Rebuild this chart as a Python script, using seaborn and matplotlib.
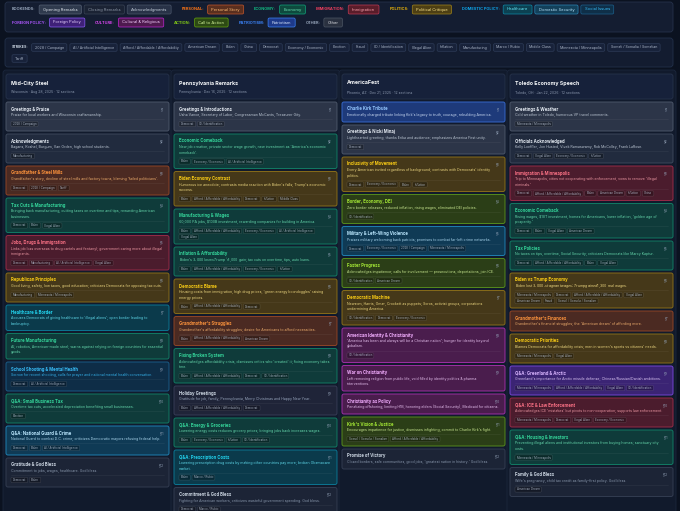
import matplotlib
matplotlib.use("Agg")
import matplotlib.pyplot as plt
from matplotlib.patches import FancyBboxPatch
import seaborn as sns

# ---- data ---------------------------------------------------------------
AFF = "Afford / Affordable / Affordability"

legend_row1 = [
    ("BOOKENDS:", "#94a3b8", ["Opening Remarks", "Closing Remarks", "Acknowledgments"]),
    ("PERSONAL:", "#f97316", ["Personal Story"]),
    ("ECONOMY:", "#10b981", ["Economy"]),
    ("IMMIGRATION:", "#f43f5e", ["Immigration"]),
    ("POLITICS:", "#eab308", ["Political Critique"]),
    ("DOMESTIC POLICY:", "#0ea5e9", ["Healthcare", "Domestic Security", "Social Issues"]),
]
legend_row2 = [
    ("FOREIGN POLICY:", "#a855f7", ["Foreign Policy"]),
    ("CULTURE:", "#d946ef", ["Cultural & Religious"]),
    ("ACTION:", "#84cc16", ["Call to Action"]),
    ("PATRIOTISM:", "#3b82f6", ["Patriotism"]),
    ("OTHER:", "#94a3b8", ["Other"]),
]

strikes = ["2028 / Campaign", "AI / Artificial Intelligence", AFF, "American Dream",
           "Biden", "China", "Democrat", "Economy / Economic", "Election", "Fraud",
           "ID / Identification", "Illegal Alien", "Inflation", "Manufacturing",
           "Marco / Rubio", "Middle Class", "Minnesota / Minneapolis",
           "Somali / Somalia / Somalian", "Tariff"]

speech_names = ["Mid-City Steel", "Pennsylvania Remarks", "AmericaFest", "Toledo Economy Speech"]
speech_subs = ["Wisconsin · Aug 28, 2025 · 12 sections",
               "Pennsylvania · Dec 16, 2025 · 12 sections",
               "Phoenix, AZ · Dec 21, 2025 · 12 sections",
               "Toledo, OH · Jan 22, 2026 · 12 sections"]

steel_titles = ["Greetings & Praise", "Acknowledgments", "Grandfather & Steel Mills",
                "Tax Cuts & Manufacturing", "Jobs, Drugs & Immigration", "Republican Principles",
                "Healthcare & Border", "Future Manufacturing", "School Shooting & Mental Health",
                "Q&A: Small Business Tax", "Q&A: National Guard & Crime", "Gratitude & God Bless"]
steel_descs = [
    "Praise for local workers and Wisconsin craftsmanship.",
    "Bagans, Koshel, Burgum, Van Orden, high school students.",
    "Grandfather's story, decline of steel mills and factory towns, blaming 'failed politicians'.",
    "Bringing back manufacturing, cutting taxes on overtime and tips, rewarding American\nbusinesses.",
    "Links job loss overseas to drug cartels and fentanyl; government caring more about illegal\nimmigrants.",
    "Good living, safety, low taxes, good education; criticizes Democrats for opposing tax cuts.",
    "Accuses Democrats of giving healthcare to 'illegal aliens'; open border leading to\nbankruptcy.",
    "AI, robotics, American-made steel; warns against relying on foreign countries for essential\ngoods.",
    "Sorrow for recent shooting, calls for prayer and national mental health conversation.",
    "Overtime tax cuts, accelerated depreciation benefiting small businesses.",
    "National Guard to combat D.C. crime; criticizes Democratic mayors refusing federal help.",
    "Commitment to jobs, wages, healthcare. God bless."]
steel_cats = ["opening", "ack", "personal", "economy", "immigration", "politics",
              "healthcare", "economy", "social", "economy", "security", "closing"]
steel_tags = [["2028 / Campaign"], ["Manufacturing"], ["Democrat", "2028 / Campaign", "Tariff"],
              ["Democrat", "Biden", "Illegal Alien"],
              ["Democrat", "Manufacturing", "AI / Artificial Intelligence", "Illegal Alien"],
              ["Manufacturing", "Minnesota / Minneapolis"], [], [],
              ["Democrat", "AI / Artificial Intelligence"], ["Election"],
              ["Democrat", "Biden", "AI / Artificial Intelligence"], ["Democrat", "Biden"]]

pa_titles = ["Greetings & Introductions", "Economic Comeback", "Biden Economy Contrast",
             "Manufacturing & Wages", "Inflation & Affordability", "Democratic Blame",
             "Grandmother's Struggles", "Fixing Broken System", "Holiday Greetings",
             "Q&A: Energy & Groceries", "Q&A: Prescription Costs", "Commitment & God Bless"]
pa_descs = [
    "Usha Vance, Secretary of Labor, Congressman McCants, Treasurer Gity.",
    "New job creation, private sector wage growth, new investment as 'America's economic\ncomeback'.",
    "Humorous ice anecdote; contrasts media reaction with Biden's falls; Trump's economic\nsuccess.",
    "60,000 PA jobs, $100B investment, rewarding companies for building in America.",
    "Biden's $3,000 loss vs Trump's $1,000 gain; tax cuts on overtime, tips, auto loans.",
    "Housing costs from immigration, high drug prices, 'green energy boondoggles' raising\nenergy prices.",
    "Grandmother's affordability struggles; desire for Americans to afford necessities.",
    "Acknowledges affordability crisis, dismisses critics who 'created' it; fixing economy takes\ntime.",
    "Gratitude for job, family, Pennsylvania, Merry Christmas and Happy New Year.",
    "Lowering energy costs reduces grocery prices; bringing jobs back increases wages.",
    "Lowering prescription drug costs by making other countries pay more; broken Obamacare\nmarket.",
    "Fighting for American workers, criticizes wasteful government spending. God bless."]
pa_cats = ["opening", "economy", "politics", "economy", "economy", "politics",
           "personal", "economy", "other", "economy", "healthcare", "closing"]
pa_tags = [["Democrat", "ID / Identification"],
           ["Biden", "Economy / Economic", "AI / Artificial Intelligence"],
           ["Biden", AFF, "Democrat", "Inflation", "Middle Class"],
           ["Biden", AFF, "Economy / Economic", "AI / Artificial Intelligence", "Illegal Alien"],
           ["Biden", AFF, "Economy / Economic", "Inflation"],
           ["Biden", AFF, "Democrat"], ["Biden", AFF, "American Dream"],
           ["Biden", AFF, "Democrat", "ID / Identification"], ["Biden", AFF, "Democrat"],
           ["Biden", "Economy / Economic", "Inflation", "ID / Identification"],
           ["Biden", "Marco / Rubio"], ["Democrat", "Marco / Rubio"]]

af_titles = ["Charlie Kirk Tribute", "Greetings & Nicki Minaj", "Inclusivity of Movement",
             "Border, Economy, DEI", "Military & Left-Wing Violence", "Faster Progress",
             "Democratic Machine", "American Identity & Christianity", "War on Christianity",
             "Christianity as Policy", "Kirk's Vision & Justice", "Promise of Victory"]
af_descs = [
    "Emotionally charged tribute linking Kirk's legacy to truth, courage, rebuilding America.",
    "Lighthearted greeting, thanks Erika and audience; emphasizes America First unity.",
    "Every American invited regardless of background; contrasts with Democrats' identity\npolitics.",
    "Zero border releases, reduced inflation, rising wages, eliminated DEI policies.",
    "Praises military welcoming back patriots; promises to combat far-left crime networks.",
    "Acknowledges impatience; calls for involvement — prosecutions, deportations, join ICE.",
    "Newsom, Harris, Omar, Crockett as puppets; Soros, activist groups, corporations\nundermining America.",
    "'America has been and always will be a Christian nation'; hunger for identity beyond\nglobalism.",
    "Left removing religion from public life, void filled by identity politics & pharma\ninterventions.",
    "Penalizing offshoring, limiting H1B, honoring elders (Social Security), Medicaid for citizens.",
    "Encourages impatience for justice, dismisses infighting, commit to Charlie Kirk's fight.",
    "Closed borders, safe communities, good jobs, 'greatest nation in history.' God bless."]
af_cats = ["patriotism", "opening", "politics", "action", "security", "action",
           "politics", "culture", "culture", "culture", "action", "closing"]
af_tags = [[], ["Democrat"], ["Democrat", "Economy / Economic", "Biden", "Inflation"],
           ["ID / Identification"],
           ["Democrat", "Economy / Economic", "2028 / Campaign", "Minnesota / Minneapolis"],
           ["ID / Identification", "American Dream"],
           ["ID / Identification", "Democrat", "Economy / Economic"],
           ["ID / Identification"], [], [], ["Somali / Somalia / Somalian", AFF], []]

tol_titles = ["Greetings & Weather", "Officials Acknowledged", "Immigration & Minneapolis",
              "Economic Comeback", "Tax Policies", "Biden vs Trump Economy",
              "Grandmother's Finances", "Democratic Priorities", "Q&A: Greenland & Arctic",
              "Q&A: ICE & Law Enforcement", "Q&A: Housing & Investors", "Family & God Bless"]
tol_descs = [
    "Cold weather in Toledo, humorous VP travel comments.",
    "Kelly Loeffler, Jon Husted, Vivek Ramaswamy, Rob McColley, Frank LaRose.",
    "Trip to Minneapolis, cities not cooperating with enforcement, vows to remove 'illegal\ncriminals.'",
    "Rising wages, $18T investment, homes for Americans, lower inflation, 'golden age of\nprosperity.'",
    "No taxes on tips, overtime, Social Security; criticizes Democrats like Marcy Kaptur.",
    "Biden lost $3,000, stagnant wages; Trump gained $1,300 real wages.",
    "Grandmother's financial struggles; the 'American dream' of affording more.",
    "Blames Democrats for affordability crisis; men in women's sports vs citizens' needs.",
    "Greenland's importance for Arctic missile defense; Chinese/Russian/Danish ambitions.",
    "Acknowledges ICE 'mistakes' but pivots to non-cooperation; supports law enforcement.",
    "Preventing illegal aliens and institutional investors from buying homes; sanctuary city\ncosts.",
    "Wife's pregnancy, child tax credit as family-first policy. God bless."]
tol_cats = ["opening", "ack", "immigration", "economy", "economy", "politics",
            "personal", "politics", "foreign", "immigration", "economy", "closing"]
tol_tags = [["Minnesota / Minneapolis"],
            ["Democrat", "Illegal Alien", "Economy / Economic", "Inflation"],
            ["Democrat", AFF, "Biden", "American Dream", "Inflation", "China"],
            ["Democrat", "Biden", "Illegal Alien", "American Dream"],
            ["Democrat", AFF, "Biden", "Illegal Alien"],
            ["Minnesota / Minneapolis", "Democrat", AFF, "Illegal Alien", "American Dream",
             "Fraud", "Somali / Somalia / Somalian"],
            [], ["Minnesota / Minneapolis", "Illegal Alien"],
            ["Minnesota / Minneapolis", AFF, "Illegal Alien", "ID / Identification"],
            ["Minnesota / Minneapolis", "Democrat", "Illegal Alien", "Economy / Economic"],
            ["Minnesota / Minneapolis"], ["American Dream"]]

# ---- styles: fill, edge, title colour, text colour ----------------------
STYLES = {
    "opening":     ("#2c3548", "#4a5467", "#e2e8f0", "#cbd5e1"),
    "ack":         ("#212b3e", "#3c475a", "#e2e8f0", "#cbd5e1"),
    "closing":     ("#1c2436", "#323c50", "#cbd5e1", "#94a3b8"),
    "personal":    ("#4b2a22", "#8e4426", "#fb923c", "#fdba74"),
    "economy":     ("#0f3b3a", "#127a63", "#34d399", "#6ee7b7"),
    "immigration": ("#4b1c2d", "#962b46", "#fb7185", "#fda4af"),
    "politics":    ("#453819", "#876c19", "#facc15", "#fde68a"),
    "healthcare":  ("#0b3a4b", "#0b7591", "#22d3ee", "#67e8f9"),
    "security":    ("#0f3a55", "#1f7fb0", "#bae6fd", "#bae6fd"),
    "social":      ("#0e2d47", "#1a5a85", "#38bdf8", "#38bdf8"),
    "foreign":     ("#3b2474", "#7244d0", "#d8b4fe", "#e9d5ff"),
    "culture":     ("#4a1d4d", "#9d2fa3", "#f0abfc", "#f5d0fe"),
    "action":      ("#2b3e17", "#558a1c", "#a3e635", "#d9f99d"),
    "patriotism":  ("#1e3a7a", "#3566c8", "#93c5fd", "#dbeafe"),
    "other":       ("#1f2438", "#363c55", "#cbd5e1", "#a5b4cc"),
}
CHIP_STYLES = {
    "Opening Remarks": ("#2f3a4d", "#556074", "#e2e8f0"),
    "Closing Remarks": ("#1b2334", "#394355", "#8b95a5"),
    "Acknowledgments": ("#283247", "#4a5569", "#cbd5e1"),
    "Personal Story": ("#5a2f1f", "#c2562b", "#fdba74"),
    "Economy": ("#0e4a3e", "#10a37a", "#6ee7b7"),
    "Immigration": ("#5a1d2a", "#be3a55", "#fda4af"),
    "Political Critique": ("#4d3f14", "#a1841a", "#fde68a"),
    "Healthcare": ("#0c4152", "#0e8aa8", "#67e8f9"),
    "Domestic Security": ("#13405a", "#2b86b5", "#bae6fd"),
    "Social Issues": ("#0f2f48", "#1b5f8c", "#38bdf8"),
    "Foreign Policy": ("#3f2178", "#8b5cf6", "#e9d5ff"),
    "Cultural & Religious": ("#4f1a4f", "#c026d3", "#f5d0fe"),
    "Call to Action": ("#2d4a14", "#65a30d", "#d9f99d"),
    "Patriotism": ("#1e3a8a", "#3b82f6", "#dbeafe"),
    "Other": ("#2a3140", "#4b5563", "#e5e7eb"),
}

BG = "#0b1220"
COL_X = [6, 174, 342, 510]
COL_W = 163

sns.set_theme(style="dark", rc={"axes.facecolor": BG, "figure.facecolor": BG})
plt.rcParams['font.family'] = ['Inter', 'DejaVu Sans']

fig = plt.figure(figsize=(6.8, 5.11), dpi=100)
ax = fig.add_axes([0, 0, 1, 1])
ax.set_xlim(0, 680)
ax.set_ylim(511, 0)
ax.axis("off")
renderer = fig.canvas.get_renderer()


def box(x, y, w, h, fc, ec, r=2.0, lw=0.6, z=1):
    ax.add_patch(FancyBboxPatch((x, y), w, h, boxstyle=f"round,pad=0,rounding_size={r}",
                                fc=fc, ec=ec, lw=lw, zorder=z))


def text_w(t):
    return t.get_window_extent(renderer).width


def chip(x, y, label, size, fc, ec, color, padx=2.0, h=6.0, z=4, r=1.2):
    t = ax.text(x + padx, y, label, fontsize=size, color=color, va="center",
                ha="left", zorder=z + 1)
    w = text_w(t) + 2 * padx
    box(x, y - h / 2, w, h, fc, ec, r=r, lw=0.5, z=z)
    return w


def flow_tags(x0, x1, y, tags, size=2.1, padx=1.7, gap=1.8, step=6.0):
    """lay tags left to right, wrap at x1, return number of rows"""
    x, row = x0, 0
    for tag in tags:
        t = ax.text(0, 0, tag, fontsize=size, color="#b8c2d2", va="center",
                    ha="left", zorder=6, alpha=0.85)
        w = text_w(t) + 2 * padx
        if x + w > x1 and x > x0:
            x, row = x0, row + 1
        t.set_position((x + padx, y + row * step))
        box(x, y + row * step - 2.6, w, 5.2, (0, 0, 0, 0.28), (1, 1, 1, 0.14),
            r=1.0, lw=0.4, z=5)
        x += w + gap
    return row + 1


def card(x, top, title, desc, cat, tags, num):
    fc, ec, tc, dc = STYLES[cat]
    lines = desc.split("\n")
    ax.text(x + 5, top + 7, title, fontsize=3.1, weight="bold", color=tc,
            va="center", zorder=6)
    ax.text(x + COL_W - 5, top + 7, f"§{num}", fontsize=2.3, color="#94a3b8",
            va="center", ha="right", zorder=6)
    for i, ln in enumerate(lines):
        ax.text(x + 5, top + 13 + 5.5 * i, ln, fontsize=2.55, color=dc,
                va="center", zorder=6, alpha=0.9)
    last = top + 13 + 5.5 * (len(lines) - 1)
    if tags:
        sep = last + 4.5
        ax.plot([x + 5, x + COL_W - 5], [sep, sep], color=(1, 1, 1, 0.08), lw=0.4, zorder=5)
        rows = flow_tags(x + 5, x + COL_W - 5, sep + 4.5, tags)
        bottom = sep + 4.5 + 6 * (rows - 1) + 7
    else:
        bottom = last + 7
    box(x, top, COL_W, bottom - top, fc, ec, r=2.0, lw=0.7, z=2)
    return bottom


# ---- top legend panel ----------------------------------------------------
box(5, 2, 668, 30, "#141d31", "#25314a", r=3)
for row, y in ((legend_row1, 9.5), (legend_row2, 22.5)):
    x = 12
    for label, col, chips in row:
        t = ax.text(x, y, label, fontsize=2.85, color=col, weight="bold", va="center", zorder=5)
        x += text_w(t) + 3.5
        for c in chips:
            fc, ec, tc = CHIP_STYLES[c]
            x += chip(x, y, c, 2.95, fc, ec, tc, padx=3.8, h=9, r=1.5) + 2.8
        x += 7.5

# ---- strikes panel -------------------------------------------------------
box(5, 38, 668, 29, "#131c30", "#22304a", r=3)
t = ax.text(12, 47.5, "STRIKES:", fontsize=2.6, color="#cbd5e1", weight="bold",
            va="center", zorder=5)
x, y = 12 + text_w(t) + 3, 47.5
for s in strikes:
    tt = ax.text(0, 0, s, fontsize=2.6, color="#a9b4c6", va="center", zorder=5)
    w = text_w(tt) + 6
    if x + w > 668:
        x, y = 12, y + 11
    tt.set_position((x + 3, y))
    box(x, y - 3.8, w, 7.6, "#18223a", "#2d3b57", r=1.3, lw=0.5, z=4)
    x += w + 3

# ---- speech columns ------------------------------------------------------
columns = [
    (steel_titles, steel_descs, steel_cats, steel_tags),
    (pa_titles, pa_descs, pa_cats, pa_tags),
    (af_titles, af_descs, af_cats, af_tags),
    (tol_titles, tol_descs, tol_cats, tol_tags),
]
for ci, (titles, descs, cats, tags) in enumerate(columns):
    cx = COL_X[ci]
    box(cx - 3, 70, COL_W + 6, 460, "#111a2c", "#1b263c", r=3, lw=0.6, z=0.5)
    box(cx, 74, COL_W, 25, "#16213a", "#26324a", r=2.5, lw=0.6, z=2)
    ax.text(cx + 5, 83, speech_names[ci], fontsize=3.8, weight="bold", color="#f8fafc",
            va="center", zorder=6)
    ax.text(cx + 5, 92, speech_subs[ci], fontsize=2.5, color="#8a97ad", va="center", zorder=6)
    top = 102
    for k in range(len(titles)):
        bottom = card(cx, top, titles[k], descs[k], cats[k], tags[k], k + 1)
        top = bottom + 3

fig.savefig("out.png", dpi=100, facecolor=BG)
